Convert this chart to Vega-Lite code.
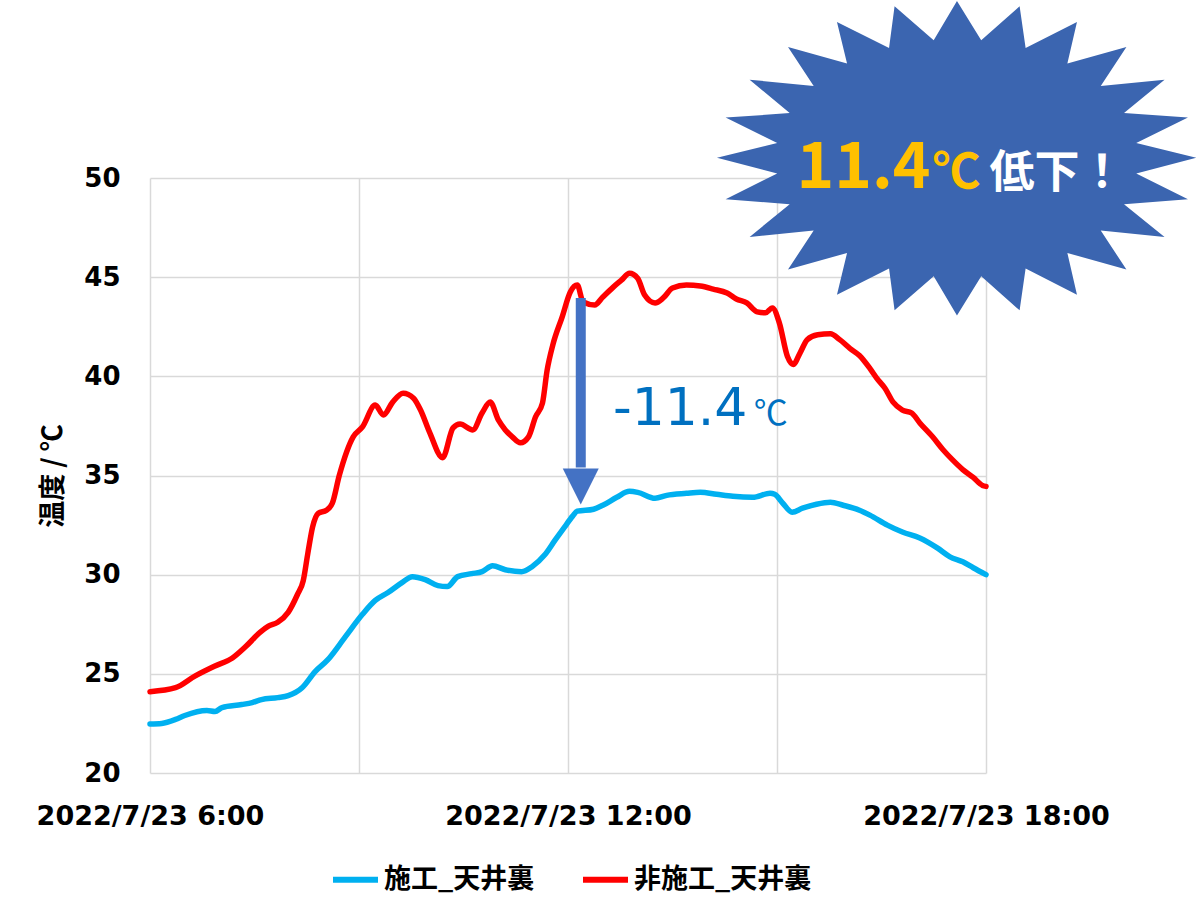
{
  "$schema": "https://vega.github.io/schema/vega-lite/v6.json",
  "width": 836,
  "height": 595,
  "autosize": {"type": "none"},
  "padding": {"left": 150, "top": 178, "right": 214, "bottom": 134},
  "background": "white",
  "config": {
    "view": {"stroke": null},
    "axis": {
      "grid": true,
      "gridColor": "#D9D9D9",
      "gridWidth": 1.5,
      "domain": false,
      "ticks": false,
      "labelFont": "DejaVu Sans",
      "labelFontWeight": "bold",
      "labelColor": "#000000",
      "labelLimit": 0
    }
  },
  "datasets": {
    "temps": [
      {"time": "2022-07-23T06:00:00", "series": "施工_天井裏", "temp": 22.47},
      {"time": "2022-07-23T06:10:00", "series": "施工_天井裏", "temp": 22.5},
      {"time": "2022-07-23T06:22:00", "series": "施工_天井裏", "temp": 22.7},
      {"time": "2022-07-23T06:30:00", "series": "施工_天井裏", "temp": 22.9},
      {"time": "2022-07-23T06:49:00", "series": "施工_天井裏", "temp": 23.15},
      {"time": "2022-07-23T06:56:00", "series": "施工_天井裏", "temp": 23.1},
      {"time": "2022-07-23T07:02:00", "series": "施工_天井裏", "temp": 23.3},
      {"time": "2022-07-23T07:19:00", "series": "施工_天井裏", "temp": 23.45},
      {"time": "2022-07-23T07:28:00", "series": "施工_天井裏", "temp": 23.55},
      {"time": "2022-07-23T07:36:00", "series": "施工_天井裏", "temp": 23.7},
      {"time": "2022-07-23T07:50:00", "series": "施工_天井裏", "temp": 23.8},
      {"time": "2022-07-23T07:59:00", "series": "施工_天井裏", "temp": 23.9},
      {"time": "2022-07-23T08:11:00", "series": "施工_天井裏", "temp": 24.3},
      {"time": "2022-07-23T08:22:00", "series": "施工_天井裏", "temp": 25.1},
      {"time": "2022-07-23T08:33:00", "series": "施工_天井裏", "temp": 25.7},
      {"time": "2022-07-23T08:48:00", "series": "施工_天井裏", "temp": 26.85},
      {"time": "2022-07-23T09:03:00", "series": "施工_天井裏", "temp": 28.0},
      {"time": "2022-07-23T09:14:00", "series": "施工_天井裏", "temp": 28.7},
      {"time": "2022-07-23T09:25:00", "series": "施工_天井裏", "temp": 29.1},
      {"time": "2022-07-23T09:37:00", "series": "施工_天井裏", "temp": 29.6},
      {"time": "2022-07-23T09:46:00", "series": "施工_天井裏", "temp": 29.9},
      {"time": "2022-07-23T09:57:00", "series": "施工_天井裏", "temp": 29.75},
      {"time": "2022-07-23T10:08:00", "series": "施工_天井裏", "temp": 29.45},
      {"time": "2022-07-23T10:16:00", "series": "施工_天井裏", "temp": 29.4},
      {"time": "2022-07-23T10:25:00", "series": "施工_天井裏", "temp": 29.9},
      {"time": "2022-07-23T10:37:00", "series": "施工_天井裏", "temp": 30.05},
      {"time": "2022-07-23T10:46:00", "series": "施工_天井裏", "temp": 30.15},
      {"time": "2022-07-23T10:55:00", "series": "施工_天井裏", "temp": 30.45},
      {"time": "2022-07-23T11:06:00", "series": "施工_天井裏", "temp": 30.25},
      {"time": "2022-07-23T11:20:00", "series": "施工_天井裏", "temp": 30.15},
      {"time": "2022-07-23T11:29:00", "series": "施工_天井裏", "temp": 30.4},
      {"time": "2022-07-23T11:40:00", "series": "施工_天井裏", "temp": 31.0},
      {"time": "2022-07-23T11:49:00", "series": "施工_天井裏", "temp": 31.75},
      {"time": "2022-07-23T11:57:00", "series": "施工_天井裏", "temp": 32.4},
      {"time": "2022-07-23T12:04:00", "series": "施工_天井裏", "temp": 32.95},
      {"time": "2022-07-23T12:08:00", "series": "施工_天井裏", "temp": 33.2},
      {"time": "2022-07-23T12:22:00", "series": "施工_天井裏", "temp": 33.3},
      {"time": "2022-07-23T12:30:00", "series": "施工_天井裏", "temp": 33.5},
      {"time": "2022-07-23T12:42:00", "series": "施工_天井裏", "temp": 33.9},
      {"time": "2022-07-23T12:53:00", "series": "施工_天井裏", "temp": 34.2},
      {"time": "2022-07-23T13:00:00", "series": "施工_天井裏", "temp": 34.15},
      {"time": "2022-07-23T13:15:00", "series": "施工_天井裏", "temp": 33.85},
      {"time": "2022-07-23T13:25:00", "series": "施工_天井裏", "temp": 34.0},
      {"time": "2022-07-23T13:42:00", "series": "施工_天井裏", "temp": 34.1},
      {"time": "2022-07-23T13:54:00", "series": "施工_天井裏", "temp": 34.15},
      {"time": "2022-07-23T14:08:00", "series": "施工_天井裏", "temp": 34.05},
      {"time": "2022-07-23T14:22:00", "series": "施工_天井裏", "temp": 33.95},
      {"time": "2022-07-23T14:39:00", "series": "施工_天井裏", "temp": 33.9},
      {"time": "2022-07-23T14:54:00", "series": "施工_天井裏", "temp": 34.1},
      {"time": "2022-07-23T14:58:00", "series": "施工_天井裏", "temp": 34.05},
      {"time": "2022-07-23T15:05:00", "series": "施工_天井裏", "temp": 33.6},
      {"time": "2022-07-23T15:13:00", "series": "施工_天井裏", "temp": 33.15},
      {"time": "2022-07-23T15:22:00", "series": "施工_天井裏", "temp": 33.35},
      {"time": "2022-07-23T15:34:00", "series": "施工_天井裏", "temp": 33.55},
      {"time": "2022-07-23T15:46:00", "series": "施工_天井裏", "temp": 33.65},
      {"time": "2022-07-23T15:57:00", "series": "施工_天井裏", "temp": 33.5},
      {"time": "2022-07-23T16:11:00", "series": "施工_天井裏", "temp": 33.25},
      {"time": "2022-07-23T16:20:00", "series": "施工_天井裏", "temp": 33.0},
      {"time": "2022-07-23T16:35:00", "series": "施工_天井裏", "temp": 32.5},
      {"time": "2022-07-23T16:48:00", "series": "施工_天井裏", "temp": 32.15},
      {"time": "2022-07-23T17:03:00", "series": "施工_天井裏", "temp": 31.85},
      {"time": "2022-07-23T17:18:00", "series": "施工_天井裏", "temp": 31.35},
      {"time": "2022-07-23T17:29:00", "series": "施工_天井裏", "temp": 30.9},
      {"time": "2022-07-23T17:40:00", "series": "施工_天井裏", "temp": 30.65},
      {"time": "2022-07-23T17:49:00", "series": "施工_天井裏", "temp": 30.35},
      {"time": "2022-07-23T18:00:00", "series": "施工_天井裏", "temp": 30.0},
      {"time": "2022-07-23T06:00:00", "series": "非施工_天井裏", "temp": 24.1},
      {"time": "2022-07-23T06:22:00", "series": "非施工_天井裏", "temp": 24.3},
      {"time": "2022-07-23T06:39:00", "series": "非施工_天井裏", "temp": 24.9},
      {"time": "2022-07-23T06:56:00", "series": "非施工_天井裏", "temp": 25.4},
      {"time": "2022-07-23T07:11:00", "series": "非施工_天井裏", "temp": 25.8},
      {"time": "2022-07-23T07:22:00", "series": "非施工_天井裏", "temp": 26.35},
      {"time": "2022-07-23T07:35:00", "series": "非施工_天井裏", "temp": 27.1},
      {"time": "2022-07-23T07:42:00", "series": "非施工_天井裏", "temp": 27.4},
      {"time": "2022-07-23T07:50:00", "series": "非施工_天井裏", "temp": 27.6},
      {"time": "2022-07-23T07:59:00", "series": "非施工_天井裏", "temp": 28.1},
      {"time": "2022-07-23T08:07:00", "series": "非施工_天井裏", "temp": 29.0},
      {"time": "2022-07-23T08:12:00", "series": "非施工_天井裏", "temp": 29.7},
      {"time": "2022-07-23T08:16:00", "series": "非施工_天井裏", "temp": 31.1},
      {"time": "2022-07-23T08:20:00", "series": "非施工_天井裏", "temp": 32.4},
      {"time": "2022-07-23T08:25:00", "series": "非施工_天井裏", "temp": 33.1},
      {"time": "2022-07-23T08:32:00", "series": "非施工_天井裏", "temp": 33.25},
      {"time": "2022-07-23T08:37:00", "series": "非施工_天井裏", "temp": 33.6},
      {"time": "2022-07-23T08:43:00", "series": "非施工_天井裏", "temp": 35.0},
      {"time": "2022-07-23T08:55:00", "series": "非施工_天井裏", "temp": 36.95},
      {"time": "2022-07-23T09:03:00", "series": "非施工_天井裏", "temp": 37.45},
      {"time": "2022-07-23T09:14:00", "series": "非施工_天井裏", "temp": 38.55},
      {"time": "2022-07-23T09:21:00", "series": "非施工_天井裏", "temp": 38.05},
      {"time": "2022-07-23T09:29:00", "series": "非施工_天井裏", "temp": 38.7},
      {"time": "2022-07-23T09:38:00", "series": "非施工_天井裏", "temp": 39.15},
      {"time": "2022-07-23T09:47:00", "series": "非施工_天井裏", "temp": 38.9},
      {"time": "2022-07-23T09:53:00", "series": "非施工_天井裏", "temp": 38.3},
      {"time": "2022-07-23T10:01:00", "series": "非施工_天井裏", "temp": 37.15},
      {"time": "2022-07-23T10:12:00", "series": "非施工_天井裏", "temp": 35.9},
      {"time": "2022-07-23T10:21:00", "series": "非施工_天井裏", "temp": 37.4},
      {"time": "2022-07-23T10:27:00", "series": "非施工_天井裏", "temp": 37.6},
      {"time": "2022-07-23T10:38:00", "series": "非施工_天井裏", "temp": 37.3},
      {"time": "2022-07-23T10:46:00", "series": "非施工_天井裏", "temp": 38.15},
      {"time": "2022-07-23T10:53:00", "series": "非施工_天井裏", "temp": 38.7},
      {"time": "2022-07-23T11:00:00", "series": "非施工_天井裏", "temp": 37.8},
      {"time": "2022-07-23T11:06:00", "series": "非施工_天井裏", "temp": 37.3},
      {"time": "2022-07-23T11:12:00", "series": "非施工_天井裏", "temp": 36.95},
      {"time": "2022-07-23T11:19:00", "series": "非施工_天井裏", "temp": 36.65},
      {"time": "2022-07-23T11:26:00", "series": "非施工_天井裏", "temp": 36.95},
      {"time": "2022-07-23T11:32:00", "series": "非施工_天井裏", "temp": 37.95},
      {"time": "2022-07-23T11:38:00", "series": "非施工_天井裏", "temp": 38.65},
      {"time": "2022-07-23T11:42:00", "series": "非施工_天井裏", "temp": 40.3},
      {"time": "2022-07-23T11:47:00", "series": "非施工_天井裏", "temp": 41.6},
      {"time": "2022-07-23T11:55:00", "series": "非施工_天井裏", "temp": 43.0},
      {"time": "2022-07-23T12:02:00", "series": "非施工_天井裏", "temp": 44.25},
      {"time": "2022-07-23T12:08:00", "series": "非施工_天井裏", "temp": 44.6},
      {"time": "2022-07-23T12:13:00", "series": "非施工_天井裏", "temp": 43.75},
      {"time": "2022-07-23T12:23:00", "series": "非施工_天井裏", "temp": 43.6},
      {"time": "2022-07-23T12:30:00", "series": "非施工_天井裏", "temp": 44.0},
      {"time": "2022-07-23T12:39:00", "series": "非施工_天井裏", "temp": 44.5},
      {"time": "2022-07-23T12:46:00", "series": "非施工_天井裏", "temp": 44.85},
      {"time": "2022-07-23T12:53:00", "series": "非施工_天井裏", "temp": 45.2},
      {"time": "2022-07-23T13:00:00", "series": "非施工_天井裏", "temp": 44.95},
      {"time": "2022-07-23T13:06:00", "series": "非施工_天井裏", "temp": 44.1},
      {"time": "2022-07-23T13:15:00", "series": "非施工_天井裏", "temp": 43.7},
      {"time": "2022-07-23T13:22:00", "series": "非施工_天井裏", "temp": 43.95},
      {"time": "2022-07-23T13:30:00", "series": "非施工_天井裏", "temp": 44.45},
      {"time": "2022-07-23T13:42:00", "series": "非施工_天井裏", "temp": 44.6},
      {"time": "2022-07-23T13:54:00", "series": "非施工_天井裏", "temp": 44.55},
      {"time": "2022-07-23T14:05:00", "series": "非施工_天井裏", "temp": 44.4},
      {"time": "2022-07-23T14:17:00", "series": "非施工_天井裏", "temp": 44.2},
      {"time": "2022-07-23T14:25:00", "series": "非施工_天井裏", "temp": 43.9},
      {"time": "2022-07-23T14:34:00", "series": "非施工_天井裏", "temp": 43.7},
      {"time": "2022-07-23T14:43:00", "series": "非施工_天井裏", "temp": 43.25},
      {"time": "2022-07-23T14:50:00", "series": "非施工_天井裏", "temp": 43.2},
      {"time": "2022-07-23T14:56:00", "series": "非施工_天井裏", "temp": 43.45},
      {"time": "2022-07-23T15:02:00", "series": "非施工_天井裏", "temp": 42.7},
      {"time": "2022-07-23T15:09:00", "series": "非施工_天井裏", "temp": 41.0},
      {"time": "2022-07-23T15:14:00", "series": "非施工_天井裏", "temp": 40.6},
      {"time": "2022-07-23T15:20:00", "series": "非施工_天井裏", "temp": 41.2},
      {"time": "2022-07-23T15:26:00", "series": "非施工_天井裏", "temp": 41.85},
      {"time": "2022-07-23T15:35:00", "series": "非施工_天井裏", "temp": 42.1},
      {"time": "2022-07-23T15:46:00", "series": "非施工_天井裏", "temp": 42.15},
      {"time": "2022-07-23T15:54:00", "series": "非施工_天井裏", "temp": 41.85},
      {"time": "2022-07-23T16:03:00", "series": "非施工_天井裏", "temp": 41.4},
      {"time": "2022-07-23T16:11:00", "series": "非施工_天井裏", "temp": 41.05},
      {"time": "2022-07-23T16:20:00", "series": "非施工_天井裏", "temp": 40.4},
      {"time": "2022-07-23T16:26:00", "series": "非施工_天井裏", "temp": 39.9},
      {"time": "2022-07-23T16:33:00", "series": "非施工_天井裏", "temp": 39.4},
      {"time": "2022-07-23T16:40:00", "series": "非施工_天井裏", "temp": 38.7},
      {"time": "2022-07-23T16:48:00", "series": "非施工_天井裏", "temp": 38.3},
      {"time": "2022-07-23T16:56:00", "series": "非施工_天井裏", "temp": 38.15},
      {"time": "2022-07-23T17:03:00", "series": "非施工_天井裏", "temp": 37.65},
      {"time": "2022-07-23T17:14:00", "series": "非施工_天井裏", "temp": 36.95},
      {"time": "2022-07-23T17:23:00", "series": "非施工_天井裏", "temp": 36.3},
      {"time": "2022-07-23T17:31:00", "series": "非施工_天井裏", "temp": 35.8},
      {"time": "2022-07-23T17:40:00", "series": "非施工_天井裏", "temp": 35.3},
      {"time": "2022-07-23T17:49:00", "series": "非施工_天井裏", "temp": 34.9},
      {"time": "2022-07-23T17:57:00", "series": "非施工_天井裏", "temp": 34.5},
      {"time": "2022-07-23T18:00:00", "series": "非施工_天井裏", "temp": 34.45}
    ]
  },
  "encoding": {
    "x": {
      "field": "time",
      "type": "temporal",
      "scale": {
        "domain": [
          {"year": 2022, "month": 7, "date": 23, "hours": 6},
          {"year": 2022, "month": 7, "date": 23, "hours": 18}
        ]
      },
      "axis": {
        "title": null,
        "values": [
          {"year": 2022, "month": 7, "date": 23, "hours": 6},
          {"year": 2022, "month": 7, "date": 23, "hours": 9},
          {"year": 2022, "month": 7, "date": 23, "hours": 12},
          {"year": 2022, "month": 7, "date": 23, "hours": 15},
          {"year": 2022, "month": 7, "date": 23, "hours": 18}
        ],
        "labelExpr": "hours(datum.value) % 6 == 0 ? timeFormat(datum.value, '%Y/%-m/%-d %-H:%M') : ''",
        "labelFontSize": 27,
        "labelPadding": 30,
        "labelOverlap": false,
        "labelBound": false,
        "labelFlush": false
      }
    },
    "y": {
      "field": "temp",
      "type": "quantitative",
      "scale": {"domain": [20, 50], "nice": false, "zero": false},
      "axis": {
        "title": "温度 / ℃",
        "titleFont": "Noto Sans CJK JP",
        "titleFontWeight": "bold",
        "titleFontSize": 27,
        "titleColor": "#000000",
        "titlePadding": 16,
        "values": [20, 25, 30, 35, 40, 45, 50],
        "labelFontSize": 26,
        "labelPadding": 30
      }
    }
  },
  "layer": [
    {
      "data": {"name": "temps"},
      "mark": {"type": "line", "strokeWidth": 5.5, "interpolate": "monotone", "strokeCap": "round", "strokeJoin": "round"},
      "encoding": {
        "color": {
          "field": "series",
          "type": "nominal",
          "scale": {"domain": ["施工_天井裏", "非施工_天井裏"], "range": ["#00B0F0", "#FF0000"]},
          "legend": {
            "title": null,
            "orient": "none",
            "direction": "horizontal",
            "legendX": 180,
            "legendY": 676,
            "padding": 0,
            "symbolType": "stroke",
            "symbolSize": 2025,
            "symbolStrokeWidth": 6,
            "labelFont": "Noto Sans CJK JP",
            "labelFontWeight": "bold",
            "labelFontSize": 27,
            "labelColor": "#000000",
            "labelLimit": 0,
            "labelOffset": 3,
            "columnPadding": 36
          }
        }
      }
    },
    {
      "data": {"values": [{"time": "2022-07-23T12:11:00", "top": 43.95, "bottom": 35.4}]},
      "mark": {"type": "rule", "color": "#4472C4", "strokeWidth": 10},
      "encoding": {
        "y": {"field": "top", "type": "quantitative"},
        "y2": {"field": "bottom"}
      }
    },
    {
      "data": {"values": [{"time": "2022-07-23T12:11:00", "temp": 34.44}]},
      "mark": {"type": "point", "shape": "M-1,-1L1,-1L0,1Z", "size": 1296, "filled": true, "color": "#4472C4", "opacity": 1}
    },
    {
      "data": {"values": [{"time": "2022-07-23T12:38:40", "temp": 37.55, "label": "-11.4"}]},
      "mark": {"type": "text", "align": "left", "baseline": "alphabetic", "font": "DejaVu Sans", "fontSize": 52, "color": "#0070C0"},
      "encoding": {"text": {"field": "label"}}
    },
    {
      "data": {"values": [{"time": "2022-07-23T14:40:00", "temp": 37.55, "label": "℃"}]},
      "mark": {"type": "text", "align": "left", "baseline": "alphabetic", "font": "Noto Sans CJK JP", "fontSize": 34, "color": "#0070C0"},
      "encoding": {"text": {"field": "label"}}
    },
    {
      "data": {"values": [{"time": "2022-07-23T17:35:00", "temp": 51.06}]},
      "mark": {
        "type": "point",
        "shape": "M0,-0.65L0.101,-0.486L0.261,-0.628L0.286,-0.454L0.5,-0.5625L0.46,-0.389L0.706,-0.458L0.599,-0.296L0.865,-0.322L0.696,-0.183L0.9625,-0.164L0.747,-0.058L0.997,0.003L0.747,0.069L0.9625,0.176L0.696,0.197L0.865,0.333L0.599,0.306L0.706,0.469L0.46,0.4L0.5,0.574L0.286,0.465L0.261,0.639L0.101,0.497L0,0.66L-0.097,0.497L-0.26,0.639L-0.283,0.465L-0.5,0.574L-0.458,0.4L-0.704,0.469L-0.597,0.306L-0.864,0.333L-0.697,0.197L-0.964,0.176L-0.749,0.069L-1,0.003L-0.749,-0.058L-0.964,-0.164L-0.697,-0.183L-0.864,-0.322L-0.597,-0.296L-0.704,-0.458L-0.458,-0.389L-0.5,-0.5625L-0.283,-0.454L-0.26,-0.628L-0.097,-0.486Z",
        "size": 230400,
        "filled": true,
        "color": "#3B65B0",
        "opacity": 1
      }
    },
    {
      "data": {"values": [{"time": "2022-07-23T17:12:15", "temp": 49.5, "label": "11.4"}]},
      "mark": {"type": "text", "align": "right", "baseline": "alphabetic", "font": "Noto Sans CJK JP", "fontWeight": "bold", "fontSize": 64, "color": "#FFC000"},
      "encoding": {"text": {"field": "label"}}
    },
    {
      "data": {"values": [{"time": "2022-07-23T17:14:00", "temp": 49.5, "label": "℃"}]},
      "mark": {"type": "text", "align": "left", "baseline": "alphabetic", "font": "Noto Sans CJK JP", "fontWeight": "bold", "fontSize": 48, "color": "#FFC000"},
      "encoding": {"text": {"field": "label"}}
    },
    {
      "data": {"values": [{"time": "2022-07-23T18:03:00", "temp": 49.5, "label": "低下！"}]},
      "mark": {"type": "text", "align": "left", "baseline": "alphabetic", "font": "Noto Sans CJK JP", "fontWeight": "bold", "fontSize": 45, "color": "#FFFFFF"},
      "encoding": {"text": {"field": "label"}}
    }
  ]
}
